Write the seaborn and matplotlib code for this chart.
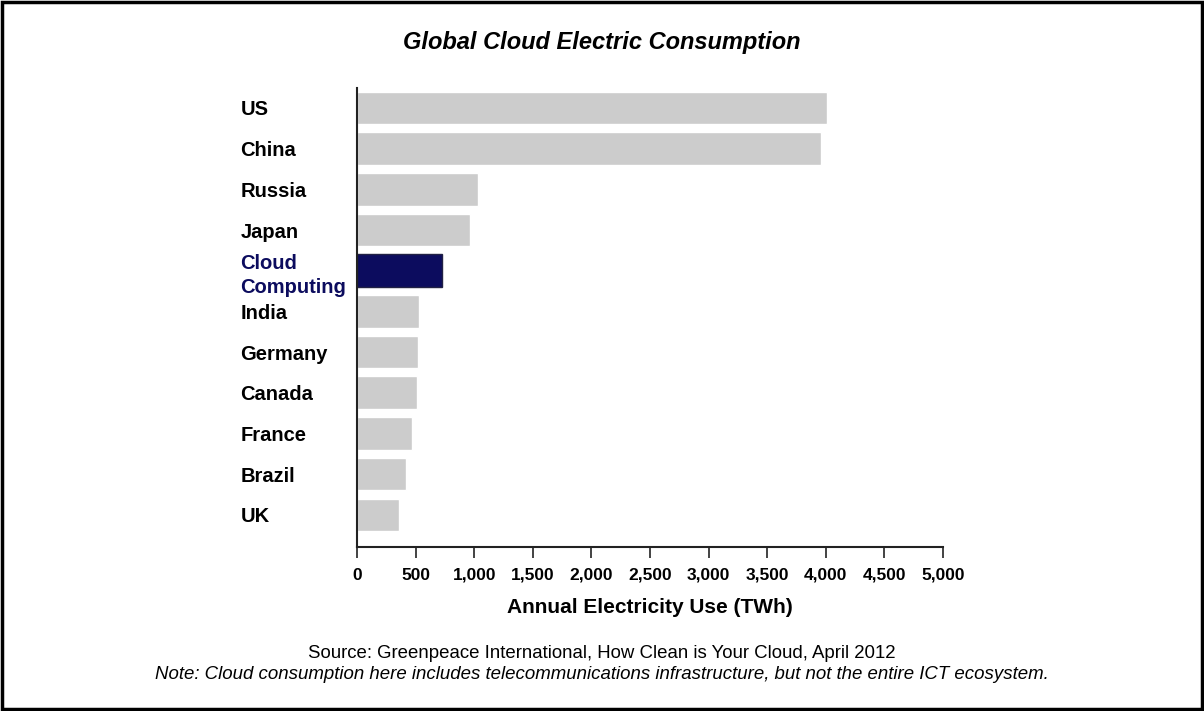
import matplotlib
matplotlib.use("Agg")
import matplotlib.pyplot as plt
import matplotlib.patches as patches
import pandas as pd
import seaborn as sns

# values (TWh)
countries = ["US", "China", "Russia", "Japan", "Cloud\nComputing", "India",
             "Germany", "Canada", "France", "Brazil", "UK"]
usage_twh = [4010, 3960, 1035, 968, 722, 525, 517, 508, 467, 422, 358]
highlight = "Cloud\nComputing"
x_ticks = [0, 500, 1000, 1500, 2000, 2500, 3000, 3500, 4000, 4500, 5000]

GRAY = "#cccccc"
NAVY = "#0c0c5e"

df = pd.DataFrame({"country": countries, "twh": usage_twh})
palette = {c: (NAVY if c == highlight else GRAY) for c in countries}

sns.set_theme(style="white")
plt.rcParams["font.family"] = ["Liberation Sans", "DejaVu Sans"]
plt.rcParams["text.color"] = "black"
plt.rcParams["axes.labelcolor"] = "black"
plt.rcParams["xtick.color"] = "black"
plt.rcParams["ytick.color"] = "black"

fig = plt.figure(figsize=(12.04, 7.11), dpi=100)
ax = fig.add_axes([0.2965, 0.2307, 0.4867, 0.6461])

sns.barplot(data=df, x="twh", y="country", hue="country", palette=palette,
            legend=False, width=0.8, ax=ax, saturation=1)

# edge on the highlighted bar
for bar, c in zip(ax.patches, countries):
    if c == highlight:
        bar.set_edgecolor("#222244")
        bar.set_linewidth(1)

ax.set_xlim(0, 5000)
ax.set_ylim(10.79, -0.5)
ax.set_xticks(x_ticks)
ax.set_xticklabels([f"{t:,}" for t in x_ticks], fontsize=12.5, fontweight="bold")
ax.tick_params(axis="x", direction="out", length=8, width=1.2, color="#222222",
               bottom=True, pad=7)
ax.tick_params(axis="y", length=0, pad=84)
for lbl in ax.get_yticklabels():
    lbl.set_horizontalalignment("left")
    lbl.set_fontsize(14.5)
    lbl.set_fontweight("bold")
    lbl.set_linespacing(1.35)
    lbl.set_color(NAVY if lbl.get_text() == highlight else "black")

ax.set_ylabel("")
ax.set_xlabel("Annual Electricity Use (TWh)", fontsize=15, fontweight="bold",
              labelpad=11)

sns.despine(ax=ax)
for side in ["left", "bottom"]:
    ax.spines[side].set_color("#222222")
    ax.spines[side].set_linewidth(1.5)

fig.text(0.5, 0.94, "Global Cloud Electric Consumption", ha="center", va="center",
         fontsize=17, fontweight="bold", fontstyle="italic")
fig.text(0.5, 0.081, "Source: Greenpeace International, How Clean is Your Cloud, April 2012",
         ha="center", va="center", fontsize=13.4)
fig.text(0.5, 0.051, "Note: Cloud consumption here includes telecommunications infrastructure, "
         "but not the entire ICT ecosystem.", ha="center", va="center",
         fontsize=13.4, fontstyle="italic")

# frame around the whole figure
fig.patches.append(patches.Rectangle((0.0015, 0.003), 0.997, 0.994,
                                     transform=fig.transFigure, fill=False,
                                     edgecolor="black", linewidth=2.5))

fig.savefig("out.png", dpi=100)
